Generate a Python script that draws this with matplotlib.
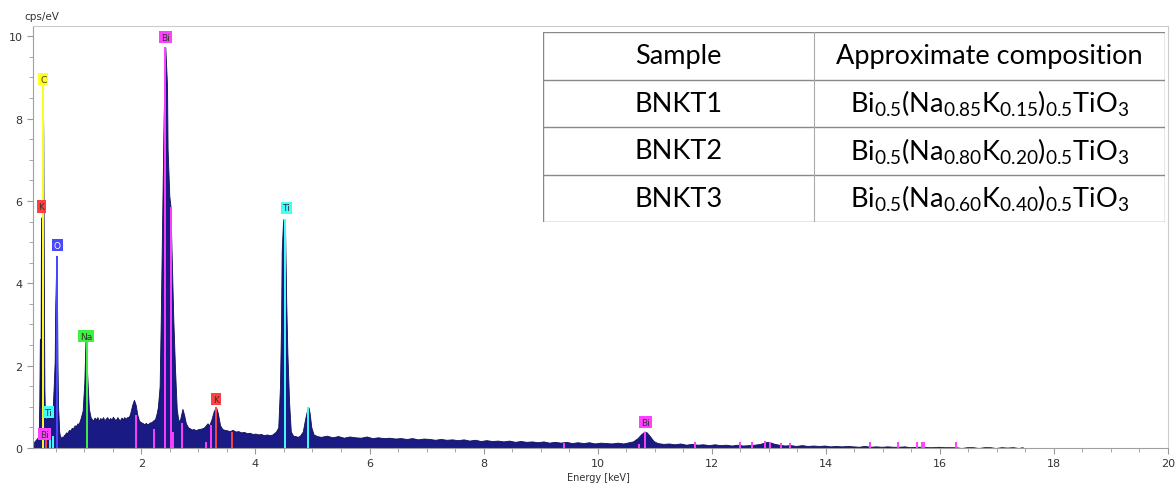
import numpy as np
import matplotlib.pyplot as plt

plt.rcParams['mathtext.fontset'] = 'custom'
plt.rcParams['mathtext.rm'] = 'Lato'
plt.rcParams['mathtext.it'] = 'Lato:italic'

# -------- EDS spectrum --------
energy = [0.10, 0.12, 0.15, 0.18, 0.20, 0.21, 0.22, 0.23, 0.24, 0.25, 0.26, 0.27, 0.28, 0.29,
          0.30, 0.31, 0.33, 0.35, 0.38, 0.40, 0.42, 0.44, 0.46, 0.48, 0.49, 0.51, 0.52, 0.53,
          0.54, 0.56, 0.58, 0.60, 0.62, 0.64, 0.66, 0.68, 0.70, 0.73, 0.75, 0.78, 0.80, 0.83,
          0.85, 0.88, 0.90, 0.93, 0.97, 1.00, 1.02, 1.04, 1.06, 1.08, 1.11, 1.15, 1.18, 1.20,
          1.23, 1.25, 1.28, 1.30, 1.33, 1.35, 1.38, 1.40, 1.43, 1.45, 1.48, 1.50, 1.53, 1.55,
          1.58, 1.60, 1.63, 1.65, 1.68, 1.70, 1.73, 1.75, 1.78, 1.80, 1.84, 1.87, 1.90, 1.93,
          1.96, 2.00, 2.03, 2.05, 2.08, 2.10, 2.13, 2.15, 2.18, 2.20, 2.24, 2.27, 2.29, 2.32,
          2.34, 2.36, 2.39, 2.42, 2.45, 2.46, 2.49, 2.51, 2.53, 2.56, 2.59, 2.62, 2.65, 2.68,
          2.72, 2.75, 2.78, 2.82, 2.85, 2.88, 2.92, 2.95, 3.00, 3.05, 3.10, 3.13, 3.16, 3.19,
          3.23, 3.27, 3.31, 3.34, 3.38, 3.42, 3.46, 3.50, 3.55, 3.60, 3.65, 3.70, 3.75, 3.80,
          3.85, 3.90, 3.95, 4.00, 4.05, 4.10, 4.15, 4.20, 4.25, 4.30, 4.36, 4.40, 4.43, 4.45,
          4.46, 4.48, 4.49, 4.52, 4.54, 4.56, 4.59, 4.62, 4.66, 4.70, 4.74, 4.78, 4.83, 4.87,
          4.91, 4.93, 4.95, 4.98, 5.02, 5.08, 5.15, 5.25, 5.35, 5.45, 5.55, 5.65, 5.75, 5.85,
          5.95, 6.05, 6.15, 6.25, 6.35, 6.45, 6.55, 6.65, 6.75, 6.85, 6.95, 7.05, 7.15, 7.25,
          7.35, 7.45, 7.55, 7.65, 7.75, 7.85, 7.95, 8.05, 8.15, 8.25, 8.35, 8.45, 8.55, 8.65,
          8.75, 8.85, 8.95, 9.05, 9.15, 9.25, 9.35, 9.45, 9.55, 9.65, 9.75, 9.85, 9.95, 10.05,
          10.15, 10.25, 10.35, 10.45, 10.55, 10.62, 10.70, 10.76, 10.82, 10.86, 10.92, 10.98,
          11.05, 11.15, 11.25, 11.35, 11.45, 11.55, 11.65, 11.75, 11.85, 11.95, 12.05, 12.15,
          12.25, 12.35, 12.45, 12.55, 12.65, 12.75, 12.85, 12.92, 12.98, 13.04, 13.10, 13.18,
          13.28, 13.38, 13.48, 13.58, 13.68, 13.78, 13.88, 13.98, 14.08, 14.18, 14.28, 14.38,
          14.48, 14.58, 14.68, 14.78, 14.88, 14.98, 15.08, 15.18, 15.28, 15.38, 15.48, 15.58,
          15.68, 15.78, 15.88, 15.98, 16.08, 16.18, 16.28, 16.38, 16.48, 16.58, 16.68, 16.78,
          16.88, 16.98, 17.08, 17.18, 17.28, 17.38, 17.45, 17.46]
counts = [0.00, 0.15, 0.20, 0.25, 0.30, 1.10, 2.65, 1.00, 5.60, 1.50, 0.90, 8.80, 7.65, 4.18,
          1.45, 0.75, 0.70, 0.74, 0.72, 0.76, 0.74, 0.80, 1.40, 2.10, 3.45, 4.67, 3.86, 2.00,
          1.00, 0.40, 0.22, 0.28, 0.25, 0.31, 0.33, 0.38, 0.36, 0.44, 0.42, 0.49, 0.47, 0.55,
          0.53, 0.60, 0.58, 0.70, 0.90, 1.60, 2.60, 2.10, 1.50, 0.95, 0.75, 0.66, 0.74, 0.69,
          0.75, 0.66, 0.73, 0.69, 0.75, 0.67, 0.72, 0.75, 0.68, 0.73, 0.69, 0.76, 0.70, 0.68,
          0.75, 0.70, 0.68, 0.74, 0.70, 0.75, 0.71, 0.75, 0.76, 0.82, 1.05, 1.17, 1.05, 0.80,
          0.66, 0.62, 0.60, 0.58, 0.61, 0.57, 0.60, 0.62, 0.63, 0.66, 0.70, 0.85, 1.00, 1.50,
          3.13, 5.15, 8.03, 9.73, 8.80, 7.26, 6.12, 5.88, 4.75, 3.13, 1.92, 0.95, 0.65, 0.70,
          0.95, 0.80, 0.60, 0.50, 0.48, 0.45, 0.46, 0.43, 0.46, 0.47, 0.50, 0.55, 0.60, 0.55,
          0.70, 0.90, 0.99, 0.85, 0.55, 0.46, 0.44, 0.43, 0.41, 0.44, 0.40, 0.41, 0.38, 0.39,
          0.36, 0.37, 0.34, 0.35, 0.33, 0.34, 0.31, 0.33, 0.31, 0.33, 0.40, 0.50, 1.50, 3.13,
          4.75, 5.40, 5.56, 5.27, 3.54, 2.32, 1.11, 0.40, 0.30, 0.29, 0.27, 0.30, 0.40, 0.70,
          0.95, 0.99, 0.85, 0.50, 0.33, 0.29, 0.27, 0.30, 0.26, 0.29, 0.25, 0.28, 0.26, 0.25,
          0.28, 0.24, 0.26, 0.24, 0.25, 0.23, 0.24, 0.22, 0.24, 0.21, 0.23, 0.22, 0.20, 0.22,
          0.20, 0.21, 0.19, 0.21, 0.18, 0.20, 0.17, 0.19, 0.17, 0.18, 0.16, 0.18, 0.15, 0.17,
          0.15, 0.16, 0.14, 0.16, 0.13, 0.15, 0.13, 0.15, 0.12, 0.14, 0.12, 0.14, 0.11, 0.13,
          0.12, 0.11, 0.13, 0.11, 0.14, 0.16, 0.24, 0.33, 0.40, 0.38, 0.28, 0.17,
          0.12, 0.10, 0.11, 0.09, 0.11, 0.08, 0.10, 0.08, 0.09, 0.07, 0.09, 0.07,
          0.08, 0.06, 0.08, 0.06, 0.07, 0.08, 0.10, 0.13, 0.15, 0.13, 0.10, 0.08,
          0.06, 0.07, 0.05, 0.07, 0.05, 0.06, 0.05, 0.06, 0.04, 0.05, 0.04, 0.05,
          0.04, 0.03, 0.05, 0.03, 0.04, 0.03, 0.04, 0.03, 0.03, 0.04, 0.02, 0.03,
          0.03, 0.02, 0.02, 0.03, 0.02, 0.02, 0.02, 0.00, 0.02, 0.02, 0.00, 0.02,
          0.02, 0.00, 0.02, 0.01, 0.02, 0.00, 0.02, 0.00]

# -------- element line markers --------
marker_energy = [0.277, 0.33, 0.40, 0.45, 0.525, 1.04, 1.90, 2.22, 2.42, 2.52, 2.56,
                 2.72, 3.13, 3.22, 3.31, 3.59, 4.51, 4.93, 9.41, 10.72, 10.83, 11.70, 12.49,
                 12.70, 12.94, 13.02, 13.22, 13.38, 14.78, 15.26, 15.60, 15.69, 15.72, 16.29]
marker_height = [8.80, 0.46, 0.30, 0.30, 4.67, 2.60, 0.80, 0.45, 9.73, 5.85, 0.40,
                 0.60, 0.15, 0.55, 0.99, 0.40, 5.56, 0.99, 0.13, 0.10, 0.40, 0.15, 0.15,
                 0.15, 0.17, 0.15, 0.13, 0.13, 0.15, 0.15, 0.15, 0.15, 0.15, 0.15]
marker_elem = ['C', 'K', 'Ti', 'Ti', 'O', 'Na', 'Bi', 'Bi', 'Bi', 'Bi', 'Bi',
               'Bi', 'Bi', 'Bi', 'K', 'K', 'Ti', 'Ti', 'Bi', 'Bi', 'Bi', 'Bi', 'Bi',
               'Bi', 'Bi', 'Bi', 'Bi', 'Bi', 'Bi', 'Bi', 'Bi', 'Bi', 'Bi', 'Bi']

# -------- peak labels --------
label_elem = ['Bi', 'C', 'K', 'O', 'Na', 'Ti', 'Bi', 'K', 'Ti', 'Bi']
label_energy = [2.42, 0.28, 0.245, 0.525, 1.03, 0.37, 0.30, 3.31, 4.54, 10.84]
label_counts = [9.98, 8.96, 5.87, 4.93, 2.72, 0.87, 0.34, 1.19, 5.83, 0.63]

elem_colors = {'Bi': '#ff40ff', 'C': '#ffff20', 'K': '#ff4040', 'O': '#4848ff',
               'Na': '#40f040', 'Ti': '#40ffff'}
elem_text = {'Bi': '#333333', 'C': '#333333', 'K': '#333333', 'O': 'white',
             'Na': '#333333', 'Ti': '#333333'}

# -------- table --------
table_header = ['Sample', 'Approximate composition']
samples = ['BNKT1', 'BNKT2', 'BNKT3']
na_frac = ['0.85', '0.80', '0.60']
k_frac = ['0.15', '0.20', '0.40']

fig = plt.figure(figsize=(11.76, 4.85), dpi=100)
ax = fig.add_axes([33 / 1176, 1 - 449 / 485, 1135 / 1176, 422 / 485])

ax.fill_between(energy, counts, color='#1a1a84', linewidth=0.6, edgecolor='#10105a')

for e, h, el in zip(marker_energy, marker_height, marker_elem):
    ax.plot([e, e], [0, h], color=elem_colors[el], linewidth=1.4, solid_capstyle='butt')

for el, e, c in zip(label_elem, label_energy, label_counts):
    ax.text(e, c, el, fontsize=6.5, color=elem_text[el], ha='center', va='center',
            bbox=dict(boxstyle='square,pad=0.2', facecolor=elem_colors[el],
                      edgecolor='none'))

ax.set_xlim(0.1, 20)
ax.set_ylim(0, 10.25)
ax.set_xticks(np.arange(2, 21, 2))
ax.set_xticks(np.arange(0.5, 20.01, 0.5), minor=True)
ax.set_yticks(np.arange(0, 11, 2))
ax.set_yticks(np.arange(0, 10.26, 0.5), minor=True)
ax.tick_params(which='both', colors='#999999', labelcolor='#333333', labelsize=8)
ax.tick_params(which='major', length=4)
ax.tick_params(which='minor', length=3)
for s in ['left', 'bottom']:
    ax.spines[s].set_color('#a0a0a0')
for s in ['top', 'right']:
    ax.spines[s].set_color('#cccccc')

fig.text(24 / 1176, 1 - 17 / 485, 'cps/eV', fontsize=7.5, color='#333333', va='center')
fig.text(598 / 1176, 1 - 478 / 485, 'Energy [keV]', fontsize=7, color='#333333',
         ha='center', va='center')

# table drawn as an inset
tab = fig.add_axes([543 / 1176, 1 - 223 / 485, 622 / 1176, 190 / 485])
tab.set_xlim(0, 1)
tab.set_ylim(0, 4)
tab.axis('off')
col_split = 0.436
for yy in range(5):
    tab.plot([0, 1], [yy, yy], color='#888888', linewidth=1.0)
tab.plot([0, 0], [0, 4], color='#888888', linewidth=1.0)
tab.plot([1, 1], [0, 4], color='#888888', linewidth=1.0)
tab.plot([col_split, col_split], [0, 4], color='#aaaaaa', linewidth=0.8)

fs = 19.5
tab.text(col_split / 2, 3.5, table_header[0], fontsize=fs, family='Lato',
         ha='center', va='center')
tab.text((1 + col_split) / 2, 3.5, table_header[1], fontsize=fs, family='Lato',
         ha='center', va='center')
for i, (s, na, k) in enumerate(zip(samples, na_frac, k_frac)):
    yc = 2.5 - i
    tab.text(col_split / 2, yc, s, fontsize=fs, family='Lato', ha='center', va='center')
    comp = (r'Bi$_{\mathrm{0.5}}$(Na$_{\mathrm{' + na + r'}}$K$_{\mathrm{' + k +
            r'}}$)$_{\mathrm{0.5}}$TiO$_{\mathrm{3}}$')
    tab.text((1 + col_split) / 2, yc, comp, fontsize=fs, family='Lato',
             ha='center', va='center')

fig.savefig('out.png', dpi=100)
